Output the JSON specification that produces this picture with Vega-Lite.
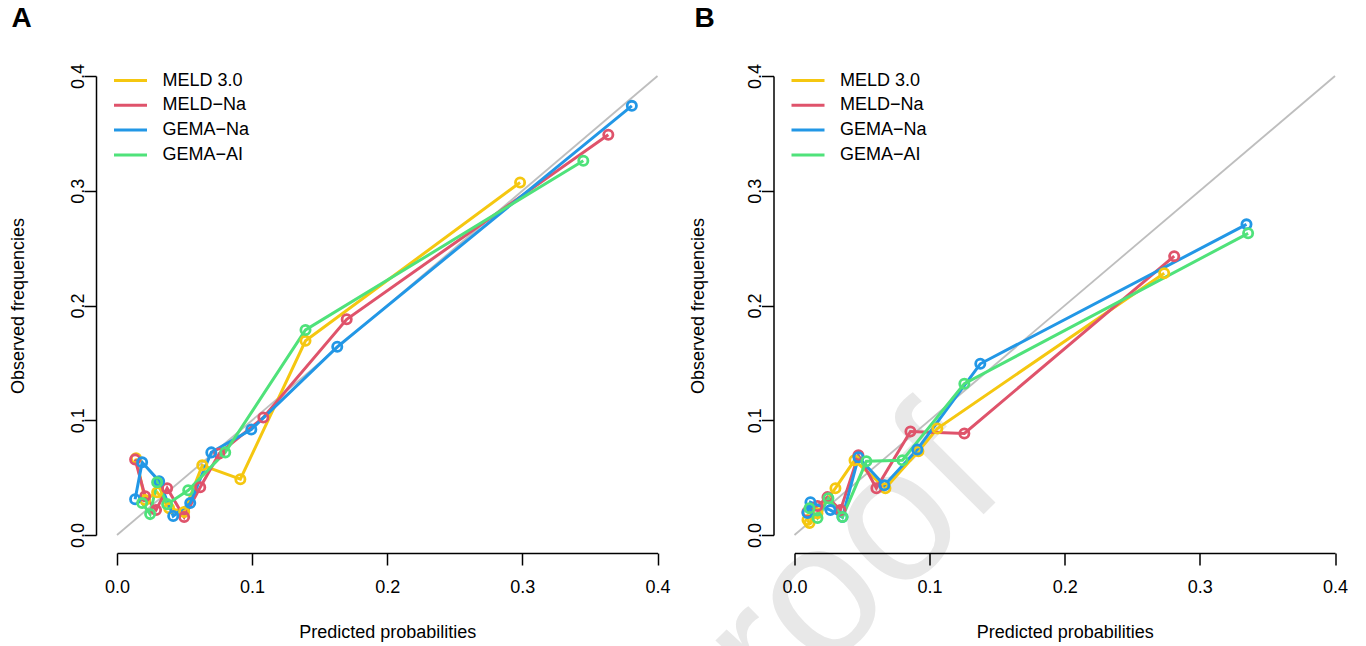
{
  "$schema": "https://vega.github.io/schema/vega-lite/v6.json",
  "background": "white",
  "padding": {"left": 9, "top": 5, "right": 5, "bottom": 5},
  "config": {
    "view": {"stroke": null},
    "font": "Liberation Sans",
    "axis": {
      "grid": false,
      "domainColor": "black",
      "tickColor": "black",
      "domainWidth": 1.5,
      "tickWidth": 1.5,
      "tickSize": 12,
      "labelFontSize": 18,
      "labelColor": "black",
      "labelFlush": false,
      "labelOverlap": false,
      "titleFontSize": 18,
      "titleFontWeight": "normal",
      "titleColor": "black"
    },
    "legend": {
      "labelFontSize": 18,
      "labelColor": "black",
      "symbolType": "M-1.65,0H1.65",
      "symbolStrokeWidth": 3,
      "symbolSize": 400,
      "labelOffset": 20.5,
      "rowPadding": 3.8,
      "padding": 0,
      "title": null
    },
    "title": {"fontSize": 28, "fontWeight": "bold", "anchor": "start", "frame": "group", "color": "black"}
  },
  "datasets": {
    "diag": [{"p": 0}, {"p": 0.4}],
    "wm": [{"text": "proof", "x": 0.1588, "y": 0.0401}],
    "A": [
      {"model": "MELD 3.0", "pred": 0.0141, "obs": 0.0668},
      {"model": "MELD 3.0", "pred": 0.0208, "obs": 0.0304},
      {"model": "MELD 3.0", "pred": 0.0297, "obs": 0.0373},
      {"model": "MELD 3.0", "pred": 0.0386, "obs": 0.0234},
      {"model": "MELD 3.0", "pred": 0.0497, "obs": 0.0200},
      {"model": "MELD 3.0", "pred": 0.0631, "obs": 0.0607},
      {"model": "MELD 3.0", "pred": 0.0913, "obs": 0.0486},
      {"model": "MELD 3.0", "pred": 0.1395, "obs": 0.1692},
      {"model": "MELD 3.0", "pred": 0.2983, "obs": 0.3072},
      {"model": "MELD−Na", "pred": 0.0134, "obs": 0.0659},
      {"model": "MELD−Na", "pred": 0.0208, "obs": 0.0338},
      {"model": "MELD−Na", "pred": 0.0289, "obs": 0.0217},
      {"model": "MELD−Na", "pred": 0.0371, "obs": 0.0408},
      {"model": "MELD−Na", "pred": 0.0497, "obs": 0.0156},
      {"model": "MELD−Na", "pred": 0.0616, "obs": 0.0416},
      {"model": "MELD−Na", "pred": 0.0757, "obs": 0.0711},
      {"model": "MELD−Na", "pred": 0.1083, "obs": 0.1024},
      {"model": "MELD−Na", "pred": 0.1700, "obs": 0.1880},
      {"model": "MELD−Na", "pred": 0.3636, "obs": 0.3488},
      {"model": "GEMA−Na", "pred": 0.0134, "obs": 0.0312},
      {"model": "GEMA−Na", "pred": 0.0186, "obs": 0.0633},
      {"model": "GEMA−Na", "pred": 0.0312, "obs": 0.0469},
      {"model": "GEMA−Na", "pred": 0.0416, "obs": 0.0165},
      {"model": "GEMA−Na", "pred": 0.0542, "obs": 0.0278},
      {"model": "GEMA−Na", "pred": 0.0698, "obs": 0.0720},
      {"model": "GEMA−Na", "pred": 0.0994, "obs": 0.0920},
      {"model": "GEMA−Na", "pred": 0.1630, "obs": 0.1640},
      {"model": "GEMA−Na", "pred": 0.3810, "obs": 0.3740},
      {"model": "GEMA−AI", "pred": 0.0186, "obs": 0.0278},
      {"model": "GEMA−AI", "pred": 0.0245, "obs": 0.0182},
      {"model": "GEMA−AI", "pred": 0.0297, "obs": 0.0460},
      {"model": "GEMA−AI", "pred": 0.0371, "obs": 0.0269},
      {"model": "GEMA−AI", "pred": 0.0527, "obs": 0.0390},
      {"model": "GEMA−AI", "pred": 0.0801, "obs": 0.0720},
      {"model": "GEMA−AI", "pred": 0.1395, "obs": 0.1787},
      {"model": "GEMA−AI", "pred": 0.3451, "obs": 0.3262}
    ],
    "B": [
      {"model": "MELD 3.0", "pred": 0.0096, "obs": 0.0130},
      {"model": "MELD 3.0", "pred": 0.0111, "obs": 0.0104},
      {"model": "MELD 3.0", "pred": 0.0170, "obs": 0.0190},
      {"model": "MELD 3.0", "pred": 0.0303, "obs": 0.0408},
      {"model": "MELD 3.0", "pred": 0.0444, "obs": 0.0651},
      {"model": "MELD 3.0", "pred": 0.0673, "obs": 0.0408},
      {"model": "MELD 3.0", "pred": 0.0917, "obs": 0.0729},
      {"model": "MELD 3.0", "pred": 0.1057, "obs": 0.0928},
      {"model": "MELD 3.0", "pred": 0.2736, "obs": 0.2282},
      {"model": "MELD−Na", "pred": 0.0096, "obs": 0.0200},
      {"model": "MELD−Na", "pred": 0.0170, "obs": 0.0252},
      {"model": "MELD−Na", "pred": 0.0244, "obs": 0.0330},
      {"model": "MELD−Na", "pred": 0.0340, "obs": 0.0217},
      {"model": "MELD−Na", "pred": 0.0473, "obs": 0.0694},
      {"model": "MELD−Na", "pred": 0.0606, "obs": 0.0408},
      {"model": "MELD−Na", "pred": 0.0858, "obs": 0.0902},
      {"model": "MELD−Na", "pred": 0.1257, "obs": 0.0885},
      {"model": "MELD−Na", "pred": 0.2810, "obs": 0.2430},
      {"model": "GEMA−Na", "pred": 0.0096, "obs": 0.0191},
      {"model": "GEMA−Na", "pred": 0.0118, "obs": 0.0286},
      {"model": "GEMA−Na", "pred": 0.0266, "obs": 0.0217},
      {"model": "GEMA−Na", "pred": 0.0355, "obs": 0.0156},
      {"model": "GEMA−Na", "pred": 0.0473, "obs": 0.0677},
      {"model": "GEMA−Na", "pred": 0.0665, "obs": 0.0434},
      {"model": "GEMA−Na", "pred": 0.0909, "obs": 0.0746},
      {"model": "GEMA−Na", "pred": 0.1375, "obs": 0.1492},
      {"model": "GEMA−Na", "pred": 0.3345, "obs": 0.2707},
      {"model": "GEMA−AI", "pred": 0.0111, "obs": 0.0234},
      {"model": "GEMA−AI", "pred": 0.0170, "obs": 0.0148},
      {"model": "GEMA−AI", "pred": 0.0251, "obs": 0.0321},
      {"model": "GEMA−AI", "pred": 0.0355, "obs": 0.0156},
      {"model": "GEMA−AI", "pred": 0.0532, "obs": 0.0642},
      {"model": "GEMA−AI", "pred": 0.0799, "obs": 0.0651},
      {"model": "GEMA−AI", "pred": 0.1257, "obs": 0.1319},
      {"model": "GEMA−AI", "pred": 0.3357, "obs": 0.2629}
    ]
  },
  "spacing": 136.5,
  "bounds": "flush",
  "resolve": {"legend": {"color": "independent"}},
  "hconcat": [
    {
      "title": {"text": "A", "offset": 30, "dx": -105.5},
      "width": 540.5,
      "height": 459,
      "layer": [
        {
          "data": {"name": "diag"},
          "mark": {"type": "line", "color": "#BEBEBE", "strokeWidth": 1.8},
          "encoding": {
            "x": {"field": "p", "type": "quantitative", "scale": {"domain": [0, 0.4], "nice": false, "zero": false},
              "axis": {"values": [0, 0.1, 0.2, 0.3, 0.4], "format": ".1f", "offset": 18, "labelPadding": 13, "title": "Predicted probabilities", "titlePadding": 27, "zindex": 1}},
            "y": {"field": "p", "type": "quantitative", "scale": {"domain": [0, 0.4], "nice": false, "zero": false},
              "axis": {"values": [0, 0.1, 0.2, 0.3, 0.4], "format": ".1f", "offset": 21, "labelAngle": -90, "labelAlign": "center", "labelBaseline": "alphabetic", "labelPadding": 1, "title": "Observed frequencies", "titlePadding": 42, "zindex": 1}}
          }
        },
        {
          "data": {"name": "A"},
          "mark": {"type": "line", "strokeWidth": 3},
          "encoding": {
            "x": {"field": "pred", "type": "quantitative"},
            "y": {"field": "obs", "type": "quantitative"},
            "color": {"field": "model", "type": "nominal",
              "scale": {"domain": ["MELD 3.0", "MELD−Na", "GEMA−Na", "GEMA−AI"], "range": ["#F5C710", "#DF536B", "#2297E6", "#4FE27A"]},
              "legend": {"orient": "none", "legendX": 2, "legendY": -7}}
          }
        },
        {
          "data": {"name": "A"},
          "mark": {"type": "point", "filled": false, "strokeWidth": 2.8, "size": 85, "opacity": 1},
          "encoding": {
            "x": {"field": "pred", "type": "quantitative"},
            "y": {"field": "obs", "type": "quantitative"},
            "color": {"field": "model", "type": "nominal", "legend": null}
          }
        }
      ]
    },
    {
      "title": {"text": "B", "offset": 30, "dx": -100},
      "width": 540.5,
      "height": 459,
      "layer": [
        {
          "data": {"name": "wm"},
          "mark": {"type": "text", "fontSize": 190, "angle": -45, "align": "right", "baseline": "alphabetic", "color": "#E8E8E8"},
          "encoding": {
            "x": {"field": "x", "type": "quantitative"},
            "y": {"field": "y", "type": "quantitative"},
            "text": {"field": "text"}
          }
        },
        {
          "data": {"name": "diag"},
          "mark": {"type": "line", "color": "#BEBEBE", "strokeWidth": 1.8},
          "encoding": {
            "x": {"field": "p", "type": "quantitative", "scale": {"domain": [0, 0.4], "nice": false, "zero": false},
              "axis": {"values": [0, 0.1, 0.2, 0.3, 0.4], "format": ".1f", "offset": 18, "labelPadding": 13, "title": "Predicted probabilities", "titlePadding": 27, "zindex": 1}},
            "y": {"field": "p", "type": "quantitative", "scale": {"domain": [0, 0.4], "nice": false, "zero": false},
              "axis": {"values": [0, 0.1, 0.2, 0.3, 0.4], "format": ".1f", "offset": 21, "labelAngle": -90, "labelAlign": "center", "labelBaseline": "alphabetic", "labelPadding": 1, "title": "Observed frequencies", "titlePadding": 39, "zindex": 1}}
          }
        },
        {
          "data": {"name": "B"},
          "mark": {"type": "line", "strokeWidth": 3},
          "encoding": {
            "x": {"field": "pred", "type": "quantitative"},
            "y": {"field": "obs", "type": "quantitative"},
            "color": {"field": "model", "type": "nominal",
              "scale": {"domain": ["MELD 3.0", "MELD−Na", "GEMA−Na", "GEMA−AI"], "range": ["#F5C710", "#DF536B", "#2297E6", "#4FE27A"]},
              "legend": {"orient": "none", "legendX": 2, "legendY": -7}}
          }
        },
        {
          "data": {"name": "B"},
          "mark": {"type": "point", "filled": false, "strokeWidth": 2.8, "size": 85, "opacity": 1},
          "encoding": {
            "x": {"field": "pred", "type": "quantitative"},
            "y": {"field": "obs", "type": "quantitative"},
            "color": {"field": "model", "type": "nominal", "legend": null}
          }
        }
      ]
    }
  ]
}
